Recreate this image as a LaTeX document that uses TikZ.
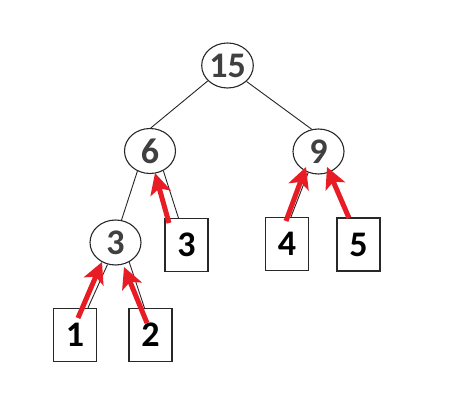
\documentclass[tikz,border=0pt]{standalone}
\usepackage{fontspec}
\setmainfont{Carlito}
\usetikzlibrary{shapes.geometric,arrows.meta,calc}
\definecolor{arrred}{RGB}{232,28,36}
\definecolor{numgray}{RGB}{64,64,64}
\definecolor{edgegray}{RGB}{40,40,40}
\tikzset{
  sumnode/.style={ellipse,draw=edgegray,line width=1.1pt,minimum width=51pt,minimum height=45pt,inner sep=0pt,
    font=\fontsize{36}{36}\selectfont\bfseries,text=numgray},
  leafbox/.style={rectangle,draw=edgegray,line width=1.1pt,minimum width=43pt,minimum height=53pt,inner sep=0pt,
    font=\fontsize{36}{36}\selectfont\bfseries,text=black},
  treeline/.style={draw=black!85,line width=0.9pt},
  redarrow/.style={draw=arrred,line width=5pt,-{Stealth[length=21pt,width=21pt,inset=5pt]}}
}
\begin{document}
\begin{tikzpicture}[x=1pt,y=-1pt]
\useasboundingbox[fill=white] (0,0) rectangle (474,417);
\node[sumnode] (n15) at (227.5,65.5) {15};
\node[sumnode] (n6) at (150,151) {6};
\node[sumnode] (n9) at (318.5,151.5) {9};
\node[sumnode] (n3) at (115.5,242.5) {3};
\node[leafbox] (b3) at (186.5,245) {3};
\node[leafbox] (b4) at (287,244) {4};
\node[leafbox] (b5) at (358.5,244.5) {5};
\node[leafbox] (b1) at (75,335) {1};
\node[leafbox] (b2) at (150.5,335) {2};
% tree edges
\draw[treeline] (n15.218) -- (n6.88);
\draw[treeline] (n15.-40) -- (n9.107);
\draw[treeline] (n6.238) -- (n3.75);
\draw[treeline] (n6.-56) -- ($(b3.north west)+(14,0)$);
\draw[treeline] (n9.244) -- ($(b4.north west)+(26,0)$);
\draw[treeline] (n9.-65) -- ($(b5.north west)+(12,0)$);
\draw[treeline] (n3.250) -- ($(b1.north west)+(35,0)$);
\draw[treeline] (n3.-55) -- ($(b2.north west)+(16,0)$);
% red arrows
\coordinate (s1) at (78,318);   \coordinate (t1) at (102,262);
\coordinate (s2) at (147,323);  \coordinate (t2) at (124,267);
\coordinate (s3) at (169,223);  \coordinate (t3) at (155,173);
\coordinate (s4) at (286,221);  \coordinate (t4) at (306,167);
\coordinate (s5) at (349,218);  \coordinate (t5) at (327,167);
\draw[redarrow] (s1) -- (t1);
\draw[redarrow] (s2) -- (t2);
\draw[redarrow] (s3) -- (t3);
\draw[redarrow] (s4) -- (t4);
\draw[redarrow] (s5) -- (t5);
\end{tikzpicture}
\end{document}
